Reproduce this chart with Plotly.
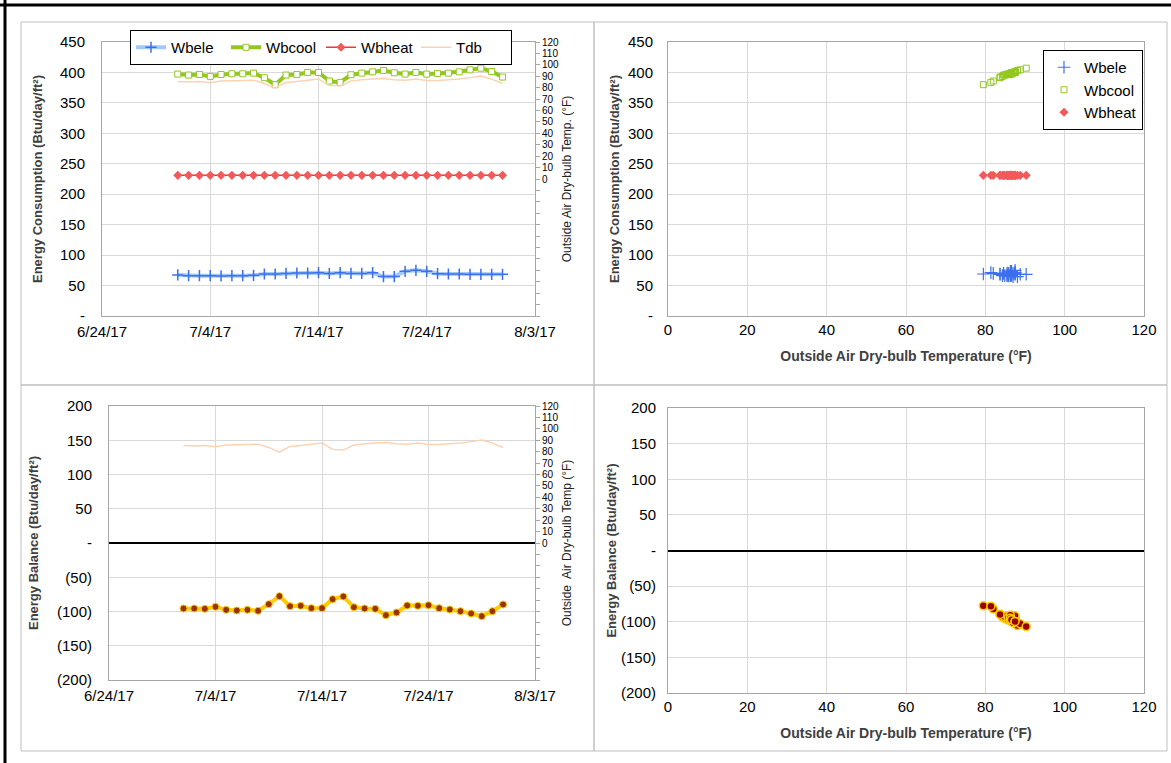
import plotly.graph_objects as go

# ---------------- data ----------------
dates = ["2017-07-01", "2017-07-02", "2017-07-03", "2017-07-04", "2017-07-05", "2017-07-06",
         "2017-07-07", "2017-07-08", "2017-07-09", "2017-07-10", "2017-07-11", "2017-07-12",
         "2017-07-13", "2017-07-14", "2017-07-15", "2017-07-16", "2017-07-17", "2017-07-18",
         "2017-07-19", "2017-07-20", "2017-07-21", "2017-07-22", "2017-07-23", "2017-07-24",
         "2017-07-25", "2017-07-26", "2017-07-27", "2017-07-28", "2017-07-29", "2017-07-30",
         "2017-07-31"]
wbele = [67.4, 66.3, 66.3, 66.3, 65.8, 66.3, 66.3, 66.8, 69.0, 69.0, 70.0, 70.6, 70.6, 71.2, 70.0,
         71.2, 70.0, 70.0, 71.2, 64.7, 64.7, 73.4, 75.0, 73.4, 69.5, 69.0, 69.0, 68.5, 68.5, 68.5, 68.5]
wbcool = [397.3, 395.7, 396.7, 393.5, 396.7, 397.8, 397.8, 398.9, 391.3, 379.9, 395.7, 396.7, 400.0,
          400.0, 385.9, 383.7, 396.2, 398.9, 401.0, 403.3, 399.5, 397.3, 400.0, 397.3, 398.4, 398.9,
          401.0, 404.3, 407.0, 401.6, 392.4]
wbheat = [231, 231, 231, 231, 231, 231, 231, 231, 231, 231, 231, 231, 231, 231, 231, 231,
          231, 231, 231, 231, 231, 231, 231, 231, 231, 231, 231, 231, 231, 231, 231]
tdb = [85.5, 84.9, 85.5, 84.3, 85.8, 86.3, 86.3, 86.6, 83.7, 79.5, 84.6, 85.5, 86.6, 87.5, 82.0,
       81.4, 85.8, 87.0, 87.5, 88.1, 87.0, 86.6, 87.5, 86.3, 86.3, 86.6, 87.5, 88.8, 90.3, 87.5, 83.7]
balance = [-95.6, -95.6, -96.1, -93.2, -97.6, -98.5, -97.6, -99.0, -89.3, -77.6, -92.2, -91.7, -95.1,
           -95.1, -82.0, -78.1, -93.7, -95.6, -96.1, -105.3, -101.5, -91.2, -91.7, -90.8, -95.1,
           -97.1, -99.5, -102.9, -106.8, -99.5, -89.8]

cons_ticks = [0, 50, 100, 150, 200, 250, 300, 350, 400, 450]
cons_text = ["-", "50", "100", "150", "200", "250", "300", "350", "400", "450"]
bal_ticks = [-200, -150, -100, -50, 0, 50, 100, 150, 200]
bal_text = ["(200)", "(150)", "(100)", "(50)", "-", "50", "100", "150", "200"]
temp_ticks = [-120, -110, -100, -90, -80, -70, -60, -50, -40, -30, -20, -10,
              0, 10, 20, 30, 40, 50, 60, 70, 80, 90, 100, 110, 120]
temp_text = [""] * 12 + ["0", "10", "20", "30", "40", "50", "60", "70", "80", "90", "100", "110", "120"]

W, H = 1171, 763
FONT = "Liberation Sans, Arial, sans-serif"
GRID = "#d9d9d9"
AXL = "#a6a6a6"

def px(x):
    return x / W

def py(y):
    return 1 - y / H

fig = go.Figure()

# ---- top-left: time series ----
fig.add_trace(go.Scatter(x=dates, y=wbele, name="Wbele", mode="lines+markers",
                         line=dict(color="rgba(120,180,245,0.7)", width=4),
                         marker=dict(symbol="cross-thin", size=8, color="#3c6ff0",
                                     line=dict(color="#3c6ff0", width=1.5)),
                         xaxis="x", yaxis="y", legend="legend"))
fig.add_trace(go.Scatter(x=dates, y=wbcool, name="Wbcool", mode="lines+markers",
                         line=dict(color="#92c81e", width=4),
                         marker=dict(symbol="square", size=6, color="white",
                                     line=dict(color="#92c81e", width=1)),
                         xaxis="x", yaxis="y", legend="legend"))
fig.add_trace(go.Scatter(x=dates, y=wbheat, name="Wbheat", mode="lines+markers",
                         line=dict(color="#ff3030", width=1.5),
                         marker=dict(symbol="diamond", size=7, color="#f25a5a"),
                         xaxis="x", yaxis="y", legend="legend"))
fig.add_trace(go.Scatter(x=dates, y=tdb, name="Tdb", mode="lines",
                         line=dict(color="#fbd3b3", width=1.5),
                         xaxis="x", yaxis="y2", legend="legend"))

# ---- top-right: scatter vs temperature ----
fig.add_trace(go.Scatter(x=tdb, y=wbele, name="Wbele", mode="markers",
                         marker=dict(symbol="cross-thin", size=9, color="#3c6ff0",
                                     line=dict(color="#3c6ff0", width=1.2)),
                         xaxis="x2", yaxis="y3", legend="legend2"))
fig.add_trace(go.Scatter(x=tdb, y=wbcool, name="Wbcool", mode="markers",
                         marker=dict(symbol="square-open", size=6, color="#92c81e",
                                     line=dict(width=1)),
                         xaxis="x2", yaxis="y3", legend="legend2"))
fig.add_trace(go.Scatter(x=tdb, y=wbheat, name="Wbheat", mode="markers",
                         marker=dict(symbol="diamond", size=7, color="#f25a5a"),
                         xaxis="x2", yaxis="y3", legend="legend2"))

# ---- bottom-left: balance time series ----
fig.add_trace(go.Scatter(x=dates, y=tdb, name="Tdb", mode="lines", showlegend=False,
                         line=dict(color="#fbd3b3", width=1.5),
                         xaxis="x3", yaxis="y5"))
fig.add_trace(go.Scatter(x=dates, y=balance, name="Balance", mode="lines+markers",
                         showlegend=False,
                         line=dict(color="#ffcc00", width=4),
                         marker=dict(symbol="circle", size=7, color="#993300",
                                     line=dict(color="#ffcc00", width=1)),
                         xaxis="x3", yaxis="y4"))

# ---- bottom-right: balance vs temperature ----
fig.add_trace(go.Scatter(x=tdb, y=balance, name="Balance", mode="markers", showlegend=False,
                         marker=dict(symbol="circle", size=8, color="#990000",
                                     line=dict(color="#ffcc00", width=1.5)),
                         xaxis="x4", yaxis="y6"))

tickfont = dict(family=FONT, size=15, color="#000")
smallfont = dict(family=FONT, size=10, color="#000")
titlefont = dict(family=FONT, size=13, color="#404040")

xTL = [px(102), px(535)]
xBL = [px(109), px(535)]
xR = [px(668), px(1144)]
yT = [py(316), py(42)]
yBL = [py(680), py(406)]
yBR = [py(693), py(408)]

date_axis = dict(type="date", range=["2017-06-24", "2017-08-03"], tick0="2017-06-24",
                 dtick=864000000, tickformat="%-m/%-d/%y", showgrid=True, gridcolor=GRID,
                 showline=True, linecolor=AXL, mirror=True, ticks="", tickfont=tickfont,
                 zeroline=False, automargin=False, ticklabelstandoff=2)
temp_axis = dict(range=[0, 120], dtick=20, tick0=0, showgrid=True, gridcolor=GRID,
                 showline=True, linecolor=AXL, mirror=True, ticks="", tickfont=tickfont,
                 zeroline=False, automargin=False,
                 title=dict(text="<b>Outside Air Dry-bulb Temperature (°F)</b>",
                            font=dict(family=FONT, size=14, color="#404040"), standoff=14))

fig.update_layout(
    width=W, height=H, autosize=False,
    margin=dict(l=0, r=0, t=0, b=0, pad=0, autoexpand=False),
    paper_bgcolor="white", plot_bgcolor="white",
    font=dict(family=FONT, color="#000"),
    xaxis=dict(domain=xTL, anchor="y", **date_axis),
    yaxis=dict(domain=yT, anchor="x", range=[0, 450], tickvals=cons_ticks, ticktext=cons_text,
               showgrid=True, gridcolor=GRID, showline=True, linecolor=AXL, mirror=True,
               zeroline=False, tickfont=tickfont, ticks="", automargin=False,
               ticklabelstandoff=13,
               title=dict(text="<b>Energy Consumption (Btu/day/ft²)</b>", font=titlefont,
                          standoff=14)),
    yaxis2=dict(overlaying="y", side="right", anchor="x", range=[-120, 120],
                tickvals=temp_ticks, ticktext=temp_text, ticks="outside", ticklen=4,
                tickcolor=AXL, showgrid=False, zeroline=False, showline=False,
                tickfont=smallfont, automargin=False,
                title=dict(text="Outside Air Dry-bulb Temp. (°F)",
                           font=dict(family=FONT, size=12, color="#222"), standoff=4)),
    xaxis2=dict(domain=xR, anchor="y3", **temp_axis),
    yaxis3=dict(domain=yT, anchor="x2", range=[0, 450], tickvals=cons_ticks, ticktext=cons_text,
                showgrid=True, gridcolor=GRID, showline=True, linecolor=AXL, mirror=True,
                zeroline=False, tickfont=tickfont, ticks="", automargin=False,
                ticklabelstandoff=11,
                title=dict(text="<b>Energy Consumption (Btu/day/ft²)</b>", font=titlefont,
                           standoff=5)),
    xaxis3=dict(domain=xBL, anchor="y4", **date_axis),
    yaxis4=dict(domain=yBL, anchor="x3", range=[-200, 200], tickvals=bal_ticks, ticktext=bal_text,
                showgrid=True, gridcolor=GRID, showline=True, linecolor=AXL, mirror=True,
                zeroline=True, zerolinecolor="#000", zerolinewidth=2,
                tickfont=tickfont, ticks="", automargin=False, ticklabelstandoff=13,
                title=dict(text="<b>Energy Balance (Btu/day/ft²)</b>", font=titlefont,
                           standoff=15)),
    yaxis5=dict(overlaying="y4", side="right", anchor="x3", range=[-120, 120],
                tickvals=temp_ticks, ticktext=temp_text, ticks="outside", ticklen=4,
                tickcolor=AXL, showgrid=False, zeroline=False, showline=False,
                tickfont=smallfont, automargin=False,
                title=dict(text="Outside  Air Dry-bulb Temp (°F)",
                           font=dict(family=FONT, size=12, color="#222"), standoff=4)),
    xaxis5=dict(overlaying="x3", anchor="free", position=(yBL[0] + yBL[1]) / 2,
                type="date", range=["2017-06-24", "2017-08-03"], tick0="2017-06-24",
                dtick=864000000, showticklabels=False, showgrid=False, showline=False,
                ticks="outside", ticklen=4, tickwidth=2, tickcolor="#000", zeroline=False,
                automargin=False),
    xaxis4=dict(domain=xR, anchor="y6", **temp_axis),
    yaxis6=dict(domain=yBR, anchor="x4", range=[-200, 200], tickvals=bal_ticks, ticktext=bal_text,
                showgrid=True, gridcolor=GRID, showline=True, linecolor=AXL, mirror=True,
                zeroline=True, zerolinecolor="#000", zerolinewidth=2,
                tickfont=tickfont, ticks="", automargin=False, ticklabelstandoff=8,
                title=dict(text="<b>Energy Balance (Btu/day/ft²)</b>", font=titlefont,
                           standoff=1)),
    xaxis6=dict(overlaying="x4", anchor="free", position=(yBR[0] + yBR[1]) / 2,
                range=[0, 120], dtick=20, tick0=0, showticklabels=False, showgrid=False,
                showline=False, ticks="outside", ticklen=4, tickwidth=2, tickcolor="#000",
                zeroline=False, automargin=False),
    legend=dict(orientation="h", x=px(130), y=py(30), xanchor="left", yanchor="top",
                bgcolor="white", bordercolor="#000", borderwidth=1,
                font=dict(family=FONT, size=15, color="#000"), itemwidth=30,
                entrywidth=50, entrywidthmode="pixels", tracegroupgap=0),
    legend2=dict(orientation="v", x=px(1143), y=py(50), xanchor="right", yanchor="top",
                 bgcolor="white", bordercolor="#000", borderwidth=1,
                 font=dict(family=FONT, size=15, color="#000"), itemwidth=30),
    showlegend=True,
)

# chart-area frames and outer border
shapes = [
    dict(type="rect", xref="paper", yref="paper", x0=px(21), x1=px(594), y0=py(385), y1=py(22),
         line=dict(color="#bfbfbf", width=1)),
    dict(type="rect", xref="paper", yref="paper", x0=px(594), x1=px(1167), y0=py(385), y1=py(22),
         line=dict(color="#bfbfbf", width=1)),
    dict(type="rect", xref="paper", yref="paper", x0=px(21), x1=px(594), y0=py(751), y1=py(385),
         line=dict(color="#bfbfbf", width=1)),
    dict(type="rect", xref="paper", yref="paper", x0=px(594), x1=px(1167), y0=py(751), y1=py(385),
         line=dict(color="#bfbfbf", width=1)),
    dict(type="line", xref="paper", yref="paper", x0=0, x1=1, y0=py(5), y1=py(5),
         line=dict(color="#000", width=3)),
    dict(type="line", xref="paper", yref="paper", x0=px(5), x1=px(5), y0=0, y1=1,
         line=dict(color="#000", width=3)),
]
fig.update_layout(shapes=shapes)

fig.write_html("out.html")
